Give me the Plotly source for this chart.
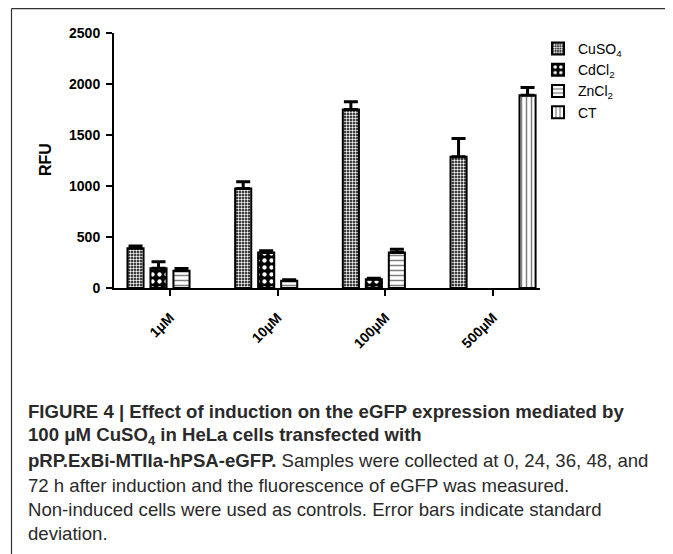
import plotly.graph_objects as go

categories = ["1µM", "10µM", "100µM", "500µM"]
series_names = ["CuSO<sub>4</sub>", "CdCl<sub>2</sub>", "ZnCl<sub>2</sub>", "CT"]
cuso4 = [389, 976, 1750, 1286]
cuso4_err = [22, 65, 75, 180]
cdcl2 = [193, 349, 85, None]
cdcl2_err = [65, 15, 10, None]
zncl2 = [170, 72, 349, None]
zncl2_err = [22, 8, 30, None]
ct = [None, None, None, 1890]
ct_err = [None, None, None, 75]
y_ticks = [0, 500, 1000, 1500, 2000, 2500]

# the page shows the figure with an 8px body margin; positions below are screen pixels
OFF = 8
W, H = 673, 554
L, R, T, B = 114, 540, 33, 288  # plot area in screen pixels


def fx(x):
    return (x - OFF) / W


def fy(y):
    return 1 - (y - OFF) / H


patterns = [
    dict(shape=".", size=3, solidity=0.5, fgcolor="white", bgcolor="black", fillmode="replace"),
    dict(shape=".", size=7, solidity=0.3, fgcolor="white", bgcolor="black", fillmode="replace"),
    dict(shape="-", size=5, solidity=0.3, fgcolor="black", bgcolor="white"),
    dict(shape="|", size=5, solidity=0.3, fgcolor="black", bgcolor="white"),
]
vals = [cuso4, cdcl2, zncl2, ct]
errs = [cuso4_err, cdcl2_err, zncl2_err, ct_err]

fig = go.Figure()
for i, (name, v, e, p) in enumerate(zip(series_names, vals, errs, patterns)):
    fig.add_trace(go.Bar(
        x=categories, y=v, name=name, legendgroup=f"g{i}",
        marker=dict(color="white", line=dict(color="black", width=2), pattern=p),
        error_y=dict(type="data", array=[x if x is not None else 0 for x in e],
                     arrayminus=[0] * len(e), symmetric=False,
                     color="black", thickness=3, width=7),
    ))

base_font = "Liberation Sans"
fig.update_layout(
    width=W, height=H,
    margin=dict(l=0, r=0, t=0, b=0, autoexpand=False),
    paper_bgcolor="white", plot_bgcolor="white",
    barmode="group", bargap=0.146, bargroupgap=0.3,
    showlegend=True,
    legend=dict(x=fx(538), y=fy(33), xanchor="left", yanchor="top",
                font=dict(family=base_font, size=14, color="black"),
                bgcolor="rgba(0,0,0,0)", tracegroupgap=0),
    xaxis=dict(type="category", range=[-0.52, 3.436], domain=[fx(L), fx(R)],
               automargin=False,
               showline=True, linecolor="black", linewidth=2,
               ticks="outside", ticklen=6, tickwidth=2, tickcolor="black",
               tickangle=-45, ticklabelstandoff=8,
               tickfont=dict(family=base_font, size=14, color="black", weight="bold"),
               showgrid=False, zeroline=False),
    yaxis=dict(range=[0, 2500], tickvals=y_ticks, domain=[fy(B), fy(T)],
               automargin=False,
               showline=True, linecolor="black", linewidth=2,
               ticks="outside", ticklen=6, tickwidth=2, tickcolor="black",
               ticklabelstandoff=3,
               tickfont=dict(family=base_font, size=14, color="black", weight="bold"),
               showgrid=False, zeroline=False),
)

fig.add_annotation(x=fx(45), y=fy(160), xref="paper", yref="paper",
                   xanchor="center", yanchor="middle", showarrow=False, textangle=-90,
                   text="<b>RFU</b>", font=dict(family=base_font, size=16, color="black"))

# figure border (open at the bottom)
border = dict(color="#333333", width=1.2)
fig.add_shape(type="line", xref="paper", yref="paper", x0=fx(11.5), x1=fx(669.5), y0=fy(8.6), y1=fy(8.6), line=border)
fig.add_shape(type="line", xref="paper", yref="paper", x0=fx(11.5), x1=fx(11.5), y0=fy(8.6), y1=fy(560), line=border)
fig.add_shape(type="line", xref="paper", yref="paper", x0=fx(669.5), x1=fx(669.5), y0=fy(8.6), y1=fy(560), line=border)

cap_font = "Liberation Sans"
caption = [
    (411, "<b>FIGURE 4 | Effect of induction on the eGFP expression mediated by</b>"),
    (436, "<b>100 μM CuSO<sub>4</sub> in HeLa cells transfected with</b>"),
    (460, "<b>pRP.ExBi-MTIIa-hPSA-eGFP.</b> Samples were collected at 0, 24, 36, 48, and"),
    (485, "72 h after induction and the fluorescence of eGFP was measured."),
    (509, "Non-induced cells were used as controls. Error bars indicate standard"),
    (533, "deviation."),
]
for yy, txt in caption:
    fig.add_annotation(x=fx(26), y=fy(yy), xref="paper", yref="paper",
                       xanchor="left", yanchor="middle", showarrow=False,
                       text=txt, font=dict(family=cap_font, size=18.6, color="#2a2a2a"))

fig.write_html("out.html")
